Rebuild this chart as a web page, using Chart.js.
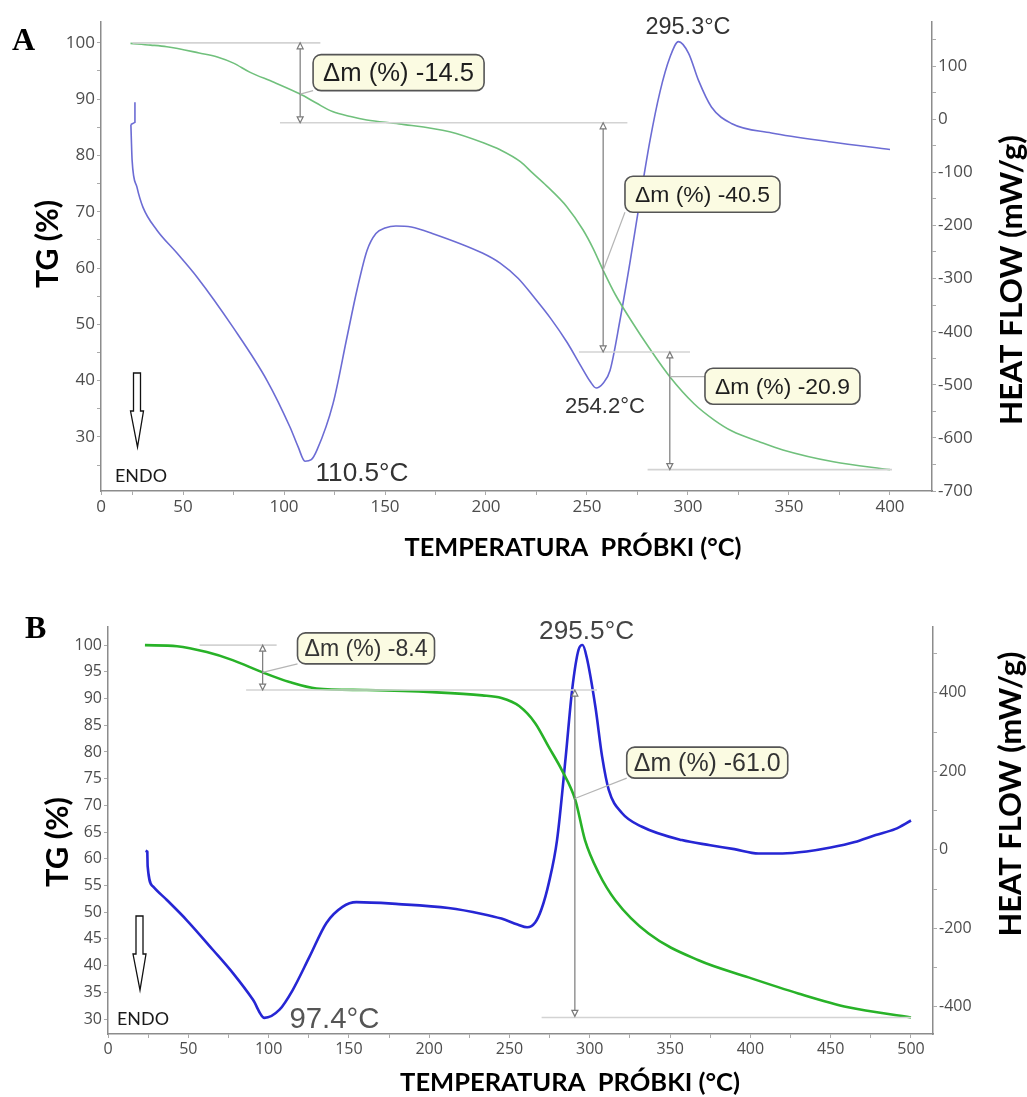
<!DOCTYPE html>
<html>
<head>
<meta charset="utf-8">
<script src="https://cdn.jsdelivr.net/npm/chart.js@4.4.1/dist/chart.umd.min.js"></script>
<style>
  body { margin: 0; background: #fff; }
  .wrap { position: absolute; left: 0; width: 1027px; }
  #wrapA { top: 0; height: 580px; }
  #wrapB { top: 585px; height: 512px; }
</style>
</head>
<body>
<div class="wrap" id="wrapA"><canvas id="chartA"></canvas></div>
<div class="wrap" id="wrapB"><canvas id="chartB"></canvas></div>
<script>
// ---- panel A : TG (%) and heat flow (mW/g) vs temperature ----
const tgTempA = [24, 34, 42, 58, 67, 75, 83, 95, 108, 116, 124, 133, 141, 157, 182, 199, 207, 217, 223, 230, 240, 248, 253, 258, 264, 272, 281, 291, 303, 313, 322, 335, 347, 372, 400];
const tgA = [99.9, 99.6, 99.3, 98.2, 97.5, 96.4, 94.8, 93.0, 90.9, 89.3, 87.8, 86.9, 86.3, 85.6, 84.2, 82.2, 81.0, 78.9, 76.9, 74.6, 70.9, 66.8, 63.5, 59.6, 55.3, 50.6, 45.7, 40.7, 35.9, 33.0, 31.0, 29.2, 27.7, 25.6, 24.2];
// start spike of the DSC signal
const hfSpikeTempA = [26.2, 26.2, 24.2];
const hfSpikeA = [32, -6, -10];
const hfTempA = [24.2, 24.4, 24.8, 27.2, 30.2, 37.1, 47.0, 56.9, 74.8, 91.6, 103, 107, 110.4, 113.5, 116.3, 124.3, 131.2, 136.1, 141.1, 145.5, 150, 155.4, 163, 173.4, 198.2, 207, 216, 223.3, 232, 240.1, 247, 251.6, 254.5, 258, 261.4, 266.3, 271.3, 276.2, 281.2, 286.1, 291.1, 295.3, 300.3, 305.2, 311.6, 321.5, 341.3, 371, 400];
const hfA = [-10, -35, -77, -128, -166, -209, -252, -297, -392, -492, -580, -617, -644, -641, -623, -535, -410, -322, -247, -215, -205, -201, -203, -215, -252, -271, -300, -333, -375, -420, -465, -494, -506, -497, -473, -379, -269, -153, -40, 51, 117, 146, 124, 73, 23, -8, -26, -43, -57];
const xTicksA = [9.4, 25, 50, 75, 100, 125, 150, 175, 200, 225, 250, 275, 300, 325, 350, 375, 400];

// ---- panel B ----
const tgTempB = [23, 43, 61.5, 77.6, 96.3, 113, 129.8, 161, 202, 233, 245, 256, 266, 274.5, 282.6, 291, 297, 305.6, 316, 336.6, 367.7, 398.8, 429.8, 460.9, 500];
const tgB = [100, 99.8, 98.7, 97.2, 94.9, 93.1, 91.9, 91.6, 91.2, 90.6, 90.1, 88.6, 85.4, 80.9, 76.6, 71.0, 63.5, 57.3, 52.2, 46.0, 41.0, 37.8, 34.8, 32.2, 30.3];
const hfSpikeTempB = [23.4, 24.4, 24.5];
const hfSpikeB = [-2, -4, -8];
const hfTempB = [24.5, 24.7, 28.0, 36.5, 48.8, 65.4, 77.8, 90.3, 97.4, 106.8, 115, 125.5, 136, 146, 154.7, 181, 212, 233, 245, 255, 261, 266, 270, 274.5, 279.6, 285, 289, 293, 295.5, 298, 303.5, 307.7, 311.8, 320, 332.5, 357.3, 375, 390, 405, 420, 435, 450, 465, 478, 490, 500];
const hfB = [-8, -42, -93, -127, -178, -255, -314, -382, -428, -407, -357, -272, -186, -145, -133, -138, -148, -163, -175, -190, -197, -185, -150, -84, 25, 237, 408, 510, 522, 492, 364, 237, 153, 94, 59, 25, 12, 2, -9, -9, -4, 6, 20, 38, 53, 75];
const xTicksB = [0, 25, 50, 75, 100, 125, 150, 175, 200, 225, 250, 275, 300, 325, 350, 375, 400, 425, 450, 475, 500];

function toPoints(xs, ys) {
  return xs.map((x, i) => ({ x: x, y: ys[i] }));
}

// font size chosen so the text spans the given width
function fitFont(ctx, text, width, weight, family) {
  ctx.font = weight + " 100px " + family;
  const size = (100 * width) / ctx.measureText(text).width;
  return weight + " " + size.toFixed(2) + "px " + family;
}

function arrowHead(ctx, x, y, dir) {
  ctx.beginPath();
  ctx.moveTo(x, y);
  ctx.lineTo(x - 3, y - dir * 6);
  ctx.lineTo(x + 3, y - dir * 6);
  ctx.closePath();
  ctx.fillStyle = "#fff";
  ctx.fill();
  ctx.stroke();
}

function endoArrow(ctx, cx, top) {
  ctx.beginPath();
  ctx.moveTo(cx - 3.5, top);
  ctx.lineTo(cx + 3.5, top);
  ctx.lineTo(cx + 3.5, top + 38);
  ctx.lineTo(cx + 6.5, top + 38);
  ctx.lineTo(cx + 0.5, top + 74);
  ctx.lineTo(cx - 6.5, top + 38);
  ctx.lineTo(cx - 3.5, top + 38);
  ctx.closePath();
  ctx.fillStyle = "#fff";
  ctx.fill();
  ctx.strokeStyle = "#111";
  ctx.lineWidth = 1.3;
  ctx.stroke();
}

function makeAnnotator(cfg) {
  return {
    id: "annot" + cfg.name,
    afterDatasetsDraw(chart) {
      const ctx = chart.ctx;
      const X = (t) => chart.scales.x.getPixelForValue(t);
      const L = (v) => chart.scales.yTG.getPixelForValue(v);
      const R = (v) => chart.scales.yHF.getPixelForValue(v);
      const area = chart.chartArea;
      ctx.save();

      // horizontal guide lines of the mass steps
      ctx.strokeStyle = "#d3d3d3";
      ctx.lineWidth = 1.6;
      cfg.guides.forEach((g) => {
        ctx.beginPath();
        ctx.moveTo(X(g.t0), L(g.v));
        ctx.lineTo(X(g.t1), L(g.v));
        ctx.stroke();
      });

      // vertical double arrows
      ctx.strokeStyle = "#7a7a7a";
      ctx.lineWidth = 1.2;
      cfg.arrows.forEach((a) => {
        const px = X(a.t);
        ctx.beginPath();
        ctx.moveTo(px, L(a.v0) + 2);
        ctx.lineTo(px, L(a.v1) - 2);
        ctx.stroke();
        arrowHead(ctx, px, L(a.v0), -1);
        arrowHead(ctx, px, L(a.v1), 1);
      });

      // mass loss boxes with leader lines
      cfg.boxes.forEach((b) => {
        ctx.font = fitFont(ctx, b.text, b.w, "", "'Liberation Sans', Arial");
        const w = b.w + 2 * cfg.boxPad;
        const h = cfg.boxH;
        const left = X(b.t);
        const top = L(b.v) - h / 2;
        const px = X(b.at[0]);
        const py = L(b.at[1]);
        const qx = Math.min(Math.max(px, left), left + w);
        const qy = Math.min(Math.max(py, top), top + h);
        ctx.strokeStyle = "#b5b5b5";
        ctx.lineWidth = 1.2;
        ctx.beginPath();
        ctx.moveTo(px, py);
        ctx.lineTo(qx, qy);
        ctx.stroke();

        ctx.beginPath();
        ctx.roundRect(left, top, w, h, 8);
        ctx.fillStyle = "#fbfbe2";
        ctx.fill();
        ctx.strokeStyle = "#555";
        ctx.lineWidth = 1.6;
        ctx.stroke();
        ctx.fillStyle = cfg.boxText;
        ctx.textAlign = "left";
        ctx.textBaseline = "middle";
        ctx.fillText(b.text, left + cfg.boxPad, top + h / 2 + 1);
      });

      // peak temperatures on the heat flow curve
      ctx.textAlign = "center";
      ctx.textBaseline = "middle";
      cfg.peaks.forEach((p) => {
        ctx.font = fitFont(ctx, p.text, p.w, "", "'Liberation Sans', Arial");
        ctx.fillStyle = p.color;
        ctx.fillText(p.text, X(p.t), R(p.hf));
      });

      // ENDO marker
      endoArrow(ctx, area.left + cfg.endoX, area.bottom - 118);
      ctx.font = fitFont(ctx, "ENDO", 52, "", "Lato");
      ctx.fillStyle = "#1a1a1a";
      ctx.textAlign = "left";
      ctx.textBaseline = "alphabetic";
      ctx.fillText("ENDO", area.left + cfg.endoTextX, area.bottom - 9);
      ctx.restore();
    },
    afterDraw(chart) {
      const ctx = chart.ctx;
      ctx.save();
      ctx.fillStyle = "#000";
      ctx.textAlign = "center";
      ctx.textBaseline = "middle";
      const t = cfg.titles;
      ctx.font = fitFont(ctx, "TEMPERATURA  PRÓBKI (°C)", t.xW, "bold", "Lato");
      ctx.fillText("TEMPERATURA  PRÓBKI (°C)", t.xPos[0], t.xPos[1]);

      [["TG (%)", t.lPos, t.lW], ["HEAT FLOW (mW/g)", t.rPos, t.rW]].forEach(([txt, pos, w]) => {
        ctx.save();
        ctx.translate(pos[0], pos[1]);
        ctx.rotate(-Math.PI / 2);
        ctx.font = fitFont(ctx, txt, w, "bold", "Lato");
        ctx.fillText(txt, 0, 0);
        ctx.restore();
      });

      ctx.font = "bold 32px 'Liberation Serif', serif";
      ctx.textAlign = "left";
      ctx.textBaseline = "alphabetic";
      ctx.fillText(cfg.name, t.letter[0], t.letter[1]);
      ctx.restore();
    },
  };
}

function makeChart(canvasId, c) {
  const tickFont = { family: "'Open Sans'", size: c.tickSize };
  const axisBase = {
    grid: { display: true, drawOnChartArea: false, drawTicks: true, tickLength: 4, color: "#aaa" },
    border: { display: true, color: "#8c8c8c", width: 1.5 },
  };
  const line = (label, xs, ys, axis, color, smooth) => ({
    label: label,
    data: toPoints(xs, ys),
    yAxisID: axis,
    borderColor: color,
    borderWidth: c.lineWidth,
    pointRadius: 0,
    cubicInterpolationMode: smooth ? "monotone" : "default",
    tension: smooth ? 0.4 : 0,
  });
  return new Chart(document.getElementById(canvasId), {
    type: "line",
    data: {
      datasets: [
        line("TG", c.tgTemp, c.tg, "yTG", c.green, true),
        line("Heat flow", c.hfTemp, c.hf, "yHF", c.blue, true),
        line("Heat flow start", c.spikeTemp, c.spike, "yHF", c.blue, false),
      ],
    },
    options: {
      responsive: true,
      maintainAspectRatio: false,
      animation: false,
      layout: { padding: { top: c.padTop, left: 0, right: 0, bottom: 0 } },
      plugins: { legend: { display: false }, tooltip: { enabled: false } },
      scales: {
        x: {
          ...axisBase,
          type: "linear",
          min: c.xMin,
          max: c.xMax,
          afterBuildTicks: (s) => {
            s.ticks = c.xTicks.map((v) => ({ value: v }));
          },
          afterFit: (s) => {
            s.height = c.xHeight;
          },
          ticks: {
            autoSkip: false,
            maxRotation: 0,
            padding: 2,
            color: "#4d4d4d",
            font: tickFont,
            callback: (v, i) => (i === 0 ? "0" : v % 50 === 0 ? v : ""),
          },
        },
        yTG: {
          ...axisBase,
          position: "left",
          min: c.tgMin,
          max: c.tgMax,
          afterFit: (s) => {
            s.width = c.leftW;
          },
          ticks: {
            stepSize: 5,
            includeBounds: false,
            autoSkip: false,
            padding: 2,
            color: "#4d4d4d",
            font: tickFont,
            callback: (v) => (v % c.tgLabelStep === 0 ? v : ""),
          },
        },
        yHF: {
          ...axisBase,
          position: "right",
          min: c.hfMin,
          max: c.hfMax,
          afterFit: (s) => {
            s.width = c.rightW;
          },
          ticks: {
            stepSize: c.hfStep,
            includeBounds: false,
            autoSkip: false,
            padding: 2,
            color: "#4d4d4d",
            font: tickFont,
            callback: (v) => (v % c.hfLabelStep === 0 ? v : ""),
          },
        },
      },
    },
    plugins: [makeAnnotator(c.annot)],
  });
}

makeChart("chartA", {
  tgTemp: tgTempA, tg: tgA, hfTemp: hfTempA, hf: hfA, spikeTemp: hfSpikeTempA, spike: hfSpikeA, xTicks: xTicksA,
  xMin: 9.4, xMax: 420.8, tgMin: 20.4, tgMax: 103.7, hfMin: -700, hfMax: 183,
  tgLabelStep: 10, hfStep: 50, hfLabelStep: 100,
  padTop: 22, leftW: 101, rightW: 95, xHeight: 89, tickSize: 17,
  green: "rgb(112,192,124)", blue: "rgb(108,108,212)", lineWidth: 1.6,
  annot: {
    name: "A",
    boxPad: 10, boxH: 36, boxText: "#1e1e1e",
    guides: [
      { v: 100, t0: 25, t1: 118 },
      { v: 85.8, t0: 98, t1: 270 },
      { v: 45.1, t0: 246, t1: 301 },
      { v: 24.2, t0: 280, t1: 401 },
    ],
    arrows: [
      { t: 108, v0: 100, v1: 85.8 },
      { t: 258, v0: 85.8, v1: 45.1 },
      { t: 291, v0: 45.1, v1: 24.2 },
    ],
    boxes: [
      { text: "Δm (%) -14.5", t: 114.4, v: 94.7, w: 151, at: [108, 90.9] },
      { text: "Δm (%) -40.5", t: 268.8, v: 73.1, w: 135, at: [258, 59.6] },
      { text: "Δm (%) -20.9", t: 308.4, v: 39.0, w: 135, at: [291, 40.7] },
    ],
    peaks: [
      { text: "295.3°C", t: 300, hf: 173, w: 85, color: "#333" },
      { text: "110.5°C", t: 138.6, hf: -667, w: 93, color: "#333" },
      { text: "254.2°C", t: 258.9, hf: -542, w: 80, color: "#333" },
    ],
    endoX: 36, endoTextX: 14,
    titles: { xPos: [573, 548], xW: 337, lPos: [48, 244], lW: 88, rPos: [1012, 280], rW: 290, letter: [12, 50] },
  },
});

makeChart("chartB", {
  tgTemp: tgTempB, tg: tgB, hfTemp: hfTempB, hf: hfB, spikeTemp: hfSpikeTempB, spike: hfSpikeB, xTicks: xTicksB,
  xMin: 0, xMax: 513.7, tgMin: 27.2, tgMax: 103.4, hfMin: -469, hfMax: 568,
  tgLabelStep: 5, hfStep: 100, hfLabelStep: 200,
  padTop: 42, leftW: 108, rightW: 94, xHeight: 63, tickSize: 16,
  green: "rgb(40,178,40)", blue: "rgb(38,38,212)", lineWidth: 2.6,
  annot: {
    name: "B",
    boxPad: 7, boxH: 31, boxText: "#333",
    guides: [
      { v: 100, t0: 57, t1: 105 },
      { v: 91.6, t0: 86, t1: 304.5 },
      { v: 30.3, t0: 270, t1: 500 },
    ],
    arrows: [
      { t: 96.3, v0: 100, v1: 91.6 },
      { t: 290.7, v0: 91.6, v1: 30.5 },
    ],
    boxes: [
      { text: "Δm (%) -8.4", t: 118, v: 99.4, w: 123, at: [96.3, 94.9] },
      { text: "Δm (%) -61.0", t: 323, v: 78, w: 147, at: [290.7, 71.3] },
    ],
    peaks: [
      { text: "295.5°C", t: 298, hf: 555, w: 95, color: "#444" },
      { text: "97.4°C", t: 141, hf: -433, w: 90, color: "#555" },
    ],
    endoX: 31.5, endoTextX: 9,
    titles: { xPos: [570, 498], xW: 340, lPos: [58, 257], lW: 90, rPos: [1011, 209], rW: 285, letter: [25, 53] },
  },
});
</script>
</body>
</html>
